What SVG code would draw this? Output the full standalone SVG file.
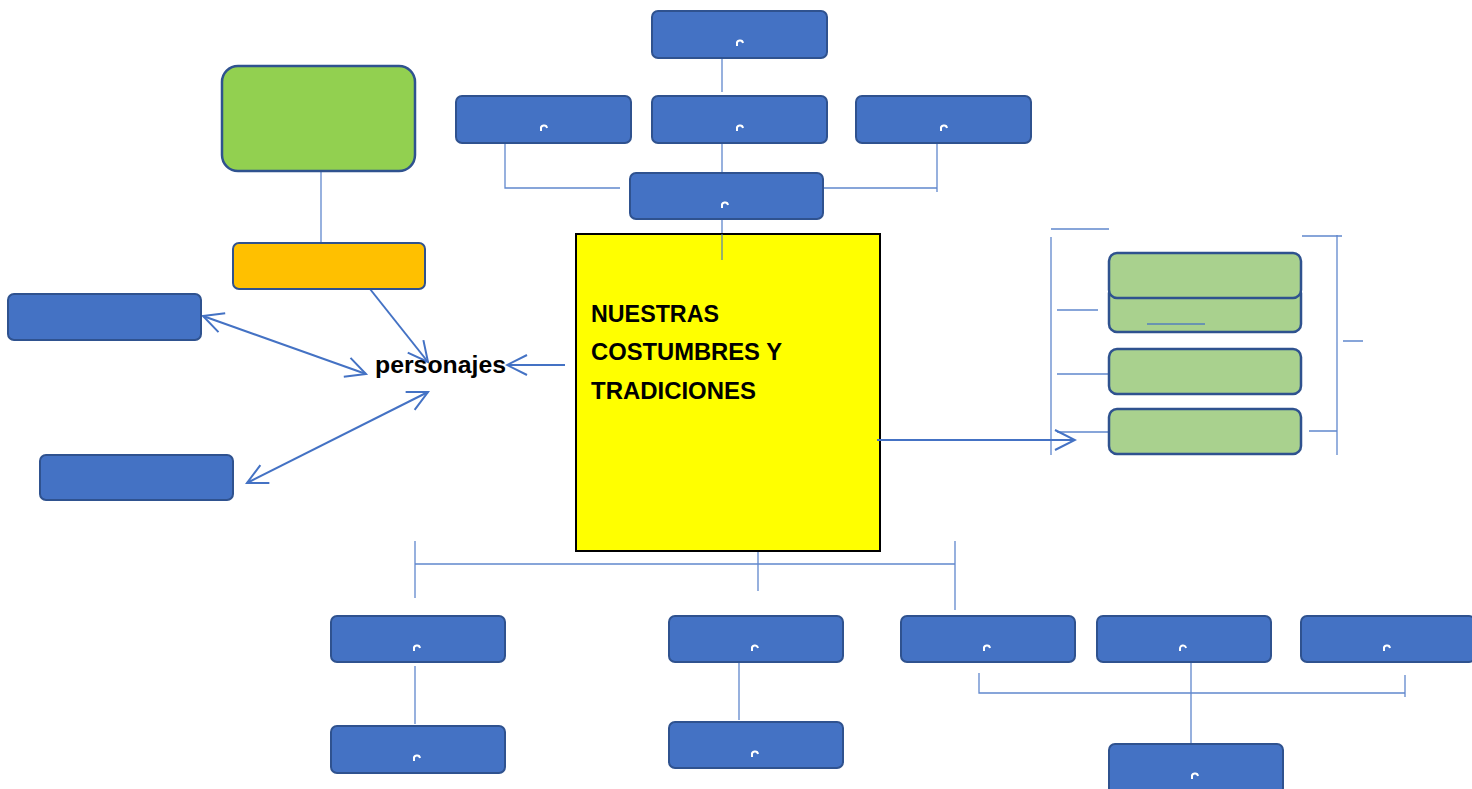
<svg xmlns="http://www.w3.org/2000/svg" width="1472" height="789" viewBox="0 0 1472 789">
<style>
.b{fill:#4472c4;stroke:#2f528f;stroke-width:2}
.g{fill:#a9d18e;stroke:#2f528f;stroke-width:2.5}
.ln{stroke:#4472c4;stroke-width:1.3;fill:none;opacity:0.85}
.ar{stroke:#4472c4;stroke-width:2;fill:none}
.arc{stroke:#fff;stroke-width:2;fill:none}
.t{font-family:"Liberation Sans",Arial,sans-serif;font-weight:bold;fill:#000}
</style>
<defs>
<marker id="ob" viewBox="0 0 24 24" refX="22" refY="12" markerWidth="24" markerHeight="24" markerUnits="userSpaceOnUse" orient="auto-start-reverse">
<path d="M2,2 L22,12 L2,22" fill="none" stroke="#4472c4" stroke-width="2"/>
</marker>
</defs>
<rect width="1472" height="789" fill="#fff"/>

<g id="connectors">
<path class="ln" d="M722,58 V92 M722,143 V173 M722,219 V234"/>
<path class="ln" d="M505,143 V188 H620 M823,188 H937 M937,143 V192"/>
<path class="ln" d="M321,171 V258"/>
<path class="ln" d="M415,541 V598 M415,564 H955 M758,552 V591 M955,541 V610"/>
<path class="ln" d="M415,666 V724 M739,662 V720"/>
<path class="ln" d="M979,673 V693 H1405 M1405,675 V697 M1191,662 V744"/>
<path class="ln" d="M1051,229 H1109 M1051,237 V455 M1057,310 H1098 M1057,374 H1109 M1057,432 H1109"/>
<path class="ln" d="M1337,235 V455 M1302,236 H1342 M1343,341 H1363 M1309,431 H1337"/>
<line class="ar" x1="565" y1="365" x2="507" y2="365" marker-end="url(#ob)"/>
<line class="ar" x1="370" y1="289" x2="428" y2="362" marker-end="url(#ob)"/>
<line class="ar" x1="203" y1="316" x2="366" y2="374" marker-start="url(#ob)" marker-end="url(#ob)"/>
<line class="ar" x1="428" y1="392" x2="247" y2="483" marker-start="url(#ob)" marker-end="url(#ob)"/>
</g>

<g id="t1"><rect class="b" x="652" y="11" width="175" height="47" rx="6"/><path class="arc" d="M737,46 v-2 a3,3 0 0 1 6,-1"/></g>
<g id="t2l"><rect class="b" x="456" y="96" width="175" height="47" rx="6"/><path class="arc" d="M541,131 v-2 a3,3 0 0 1 6,-1"/></g>
<g id="t2c"><rect class="b" x="652" y="96" width="175" height="47" rx="6"/><path class="arc" d="M737,131 v-2 a3,3 0 0 1 6,-1"/></g>
<g id="t2r"><rect class="b" x="856" y="96" width="175" height="47" rx="6"/><path class="arc" d="M941,131 v-2 a3,3 0 0 1 6,-1"/></g>
<g id="t3"><rect class="b" x="630" y="173" width="193" height="46" rx="6"/><path class="arc" d="M722,208 v-2 a3,3 0 0 1 6,-1"/></g>

<g id="main"><rect x="576" y="234" width="304" height="317" fill="#ffff00" stroke="#000" stroke-width="2"/>
<text class="t" font-size="23" x="591" y="322" textLength="128" lengthAdjust="spacingAndGlyphs">NUESTRAS</text>
<text class="t" font-size="23" x="591" y="360" textLength="191" lengthAdjust="spacingAndGlyphs">COSTUMBRES Y</text>
<text class="t" font-size="23" x="591" y="399" textLength="165" lengthAdjust="spacingAndGlyphs">TRADICIONES</text></g>
<path class="ln" d="M722,234 V260"/>
<line class="ar" x1="877" y1="440" x2="1075" y2="440" marker-end="url(#ob)"/>

<g id="greenbig"><rect x="222" y="66" width="193" height="105" rx="16" fill="#92d050" stroke="#2f528f" stroke-width="2.5"/></g>
<g id="orange"><rect x="233" y="243" width="192" height="46" rx="6" fill="#ffc000" stroke="#2f528f" stroke-width="2"/></g>
<g id="personajes"><text class="t" font-size="23" x="375" y="373" textLength="131" lengthAdjust="spacingAndGlyphs">personajes</text></g>
<g id="left1"><rect class="b" x="8" y="294" width="193" height="46" rx="6"/></g>
<g id="left2"><rect class="b" x="40" y="455" width="193" height="45" rx="6"/></g>

<g id="g2"><rect class="g" x="1109" y="285" width="192" height="47" rx="8"/></g>
<g id="g1"><rect class="g" x="1109" y="253" width="192" height="45" rx="8"/></g>
<g id="g3"><rect class="g" x="1109" y="349" width="192" height="45" rx="8"/></g>
<g id="g4"><rect class="g" x="1109" y="409" width="192" height="45" rx="8"/></g>
<path class="ln" d="M1147,324 H1205"/>

<g id="b1"><rect class="b" x="331" y="616" width="174" height="46" rx="6"/><path class="arc" d="M414,651 v-2 a3,3 0 0 1 6,-1"/></g>
<g id="b2"><rect class="b" x="669" y="616" width="174" height="46" rx="6"/><path class="arc" d="M752,651 v-2 a3,3 0 0 1 6,-1"/></g>
<g id="b3"><rect class="b" x="901" y="616" width="174" height="46" rx="6"/><path class="arc" d="M984,651 v-2 a3,3 0 0 1 6,-1"/></g>
<g id="b4"><rect class="b" x="1097" y="616" width="174" height="46" rx="6"/><path class="arc" d="M1180,651 v-2 a3,3 0 0 1 6,-1"/></g>
<g id="b5"><rect class="b" x="1301" y="616" width="174" height="46" rx="6"/><path class="arc" d="M1384,651 v-2 a3,3 0 0 1 6,-1"/></g>
<g id="b1c"><rect class="b" x="331" y="726" width="174" height="47" rx="6"/><path class="arc" d="M414,761 v-2 a3,3 0 0 1 6,-1"/></g>
<g id="b2c"><rect class="b" x="669" y="722" width="174" height="46" rx="6"/><path class="arc" d="M752,757 v-2 a3,3 0 0 1 6,-1"/></g>
<g id="b6"><rect class="b" x="1109" y="744" width="174" height="50" rx="6"/><path class="arc" d="M1192,779 v-2 a3,3 0 0 1 6,-1"/></g>
</svg>
